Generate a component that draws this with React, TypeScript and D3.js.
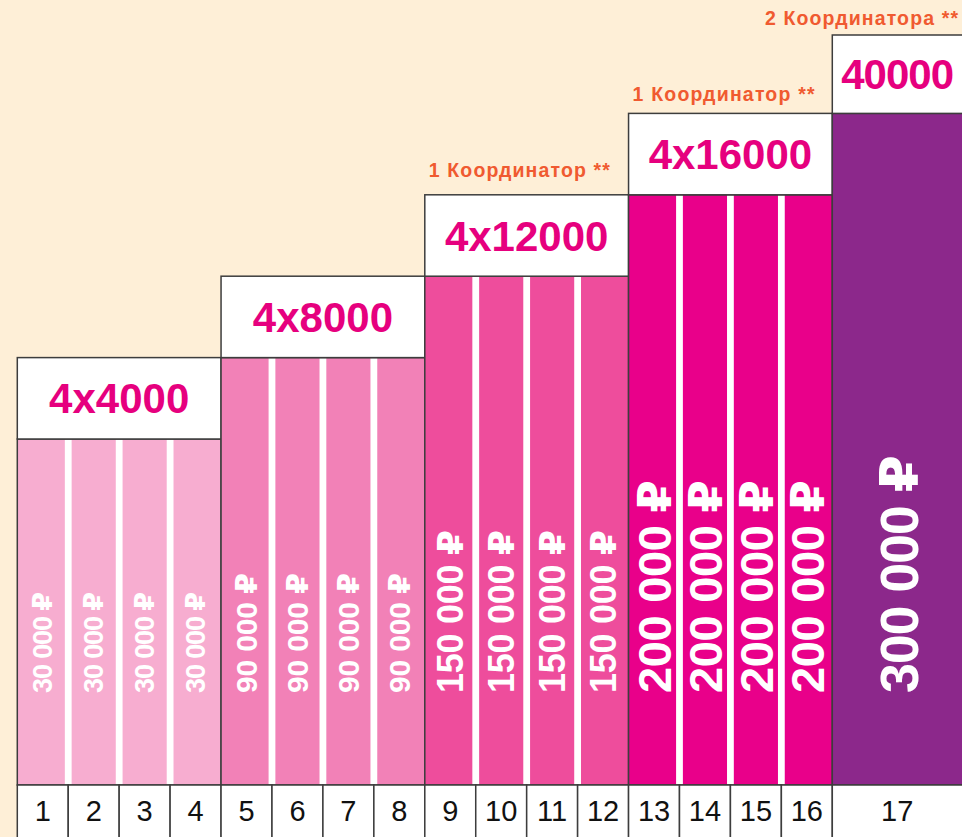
import React from "react";
import * as d3 from "d3";

// ---- data ----
const columnLabels = ["1", "2", "3", "4", "5", "6", "7", "8", "9", "10", "11", "12", "13", "14", "15", "16", "17"];
const columnUnits = [1, 1, 1, 1, 1, 1, 1, 1, 1, 1, 1, 1, 1, 1, 1, 1, 2.6];
const groupSizes = [4, 4, 4, 4, 1];
const groupLevels = [1, 2, 3, 4, 5];
const groupHeaders = ["4x4000", "4x8000", "4x12000", "4x16000", "40000"];
const groupAmounts = [30000, 90000, 150000, 200000, 300000];
const groupNotes = ["", "", "1 Координатор **", "1 Координатор **", "2 Координатора **"];
const groupColors = ["#F7ADD0", "#F281B7", "#EE4D9C", "#E9008A", "#8C288B"];

// ---- layout / style ----
const W = 962;
const H = 837;
const BASE = 785;
const CELL_H = 56;
const STROKE = "#3d3d3d";
const BG = "#FEEFD7";
const HEADER_COLOR = "#E6007E";
const NOTE_COLOR = "#F05A30";
const FONT = "'Liberation Sans', Arial, Helvetica, 'DejaVu Sans', sans-serif";
const amountFont = [27, 30, 36, 47, 54];
const amountLen = [101, 120, 163, 213, 238];
const noteDy = [0, 0, -18, -12, -10];
const noteLen = [0, 0, 181, 182, 193];

const rub = d3.formatLocale({ decimal: ",", thousands: " ", grouping: [3], currency: ["", " ₽"] }).format("$,");

export default function App() {
  const edges = [0, ...d3.cumsum(columnUnits)];
  const x = d3.scaleLinear().domain([0, 16]).range([17.3, 832.3]);
  const y = d3.scaleLinear().domain([1, 5]).range([439, 113.4]);
  const groupStart = [0, ...d3.cumsum(groupSizes)];
  const GAP = 3.4;

  return (
    <svg width={W} height={H} style={{ position: "absolute", left: 0, top: 0, fontFamily: FONT }}>
      <rect x={0} y={0} width={W} height={H} fill={BG} />
      {groupSizes.map((n, g) => {
        const c0 = groupStart[g];
        const c1 = groupStart[g + 1];
        const gx0 = x(edges[c0]);
        const gx1 = x(edges[c1]);
        const top = y(groupLevels[g]);
        const hTop = Math.max(y(groupLevels[g] + 1), 35);
        const fs = amountFont[g];
        return (
          <g key={g}>
            <rect x={gx0} y={top} width={gx1 - gx0} height={BASE - top} fill="#fff" />
            {d3.range(c0, c1).map((c) => {
              const bx0 = x(edges[c]) + (c === c0 ? 0 : GAP);
              const bx1 = x(edges[c + 1]) - (c === c1 - 1 ? 0 : GAP);
              const cx = (x(edges[c]) + x(edges[c + 1])) / 2;
              const tx = cx + 0.358 * fs;
              const ty = 693;
              return (
                <g key={c}>
                  <rect x={bx0} y={top} width={bx1 - bx0} height={BASE - top} fill={groupColors[g]} />
                  <text
                    x={tx}
                    y={ty}
                    transform={`rotate(-90, ${tx}, ${ty})`}
                    fill="#fff"
                    fontSize={fs}
                    fontWeight="bold"
                    textLength={amountLen[g]}
                    lengthAdjust="spacing"
                  >
                    {rub(groupAmounts[g])}
                  </text>
                </g>
              );
            })}
            <rect x={gx0} y={top} width={gx1 - gx0} height={BASE - top} fill="none" stroke={STROKE} strokeWidth={1.5} />
            <rect x={gx0} y={hTop} width={gx1 - gx0} height={top - hTop} fill="#fff" stroke={STROKE} strokeWidth={1.5} />
            <text
              x={(gx0 + Math.min(gx1, W)) / 2}
              y={(hTop + top) / 2 + 0.358 * 42}
              textAnchor="middle"
              fill={HEADER_COLOR}
              fontSize={42}
              fontWeight="bold"
              letterSpacing={g === 4 ? -1 : 0}
            >
              {groupHeaders[g]}
            </text>
            {groupNotes[g] && (
              <text
                x={g === 4 ? 958 : gx0 + 4}
                y={hTop + noteDy[g]}
                textAnchor={g === 4 ? "end" : "start"}
                fill={NOTE_COLOR}
                fontSize={19.5}
                fontWeight="bold"
                textLength={noteLen[g]}
                lengthAdjust="spacing"
              >
                {groupNotes[g]}
              </text>
            )}
          </g>
        );
      })}
      {columnLabels.map((lab, c) => {
        const cx0 = x(edges[c]);
        const cx1 = x(edges[c + 1]);
        const mid = (cx0 + Math.min(cx1, W)) / 2;
        return (
          <g key={lab}>
            <rect x={cx0} y={BASE} width={cx1 - cx0} height={CELL_H} fill="#fff" stroke={STROKE} strokeWidth={1.5} />
            <text x={mid} y={BASE + 26 + 0.358 * 29} textAnchor="middle" fill="#111" fontSize={29}>
              {lab}
            </text>
          </g>
        );
      })}
    </svg>
  );
}
